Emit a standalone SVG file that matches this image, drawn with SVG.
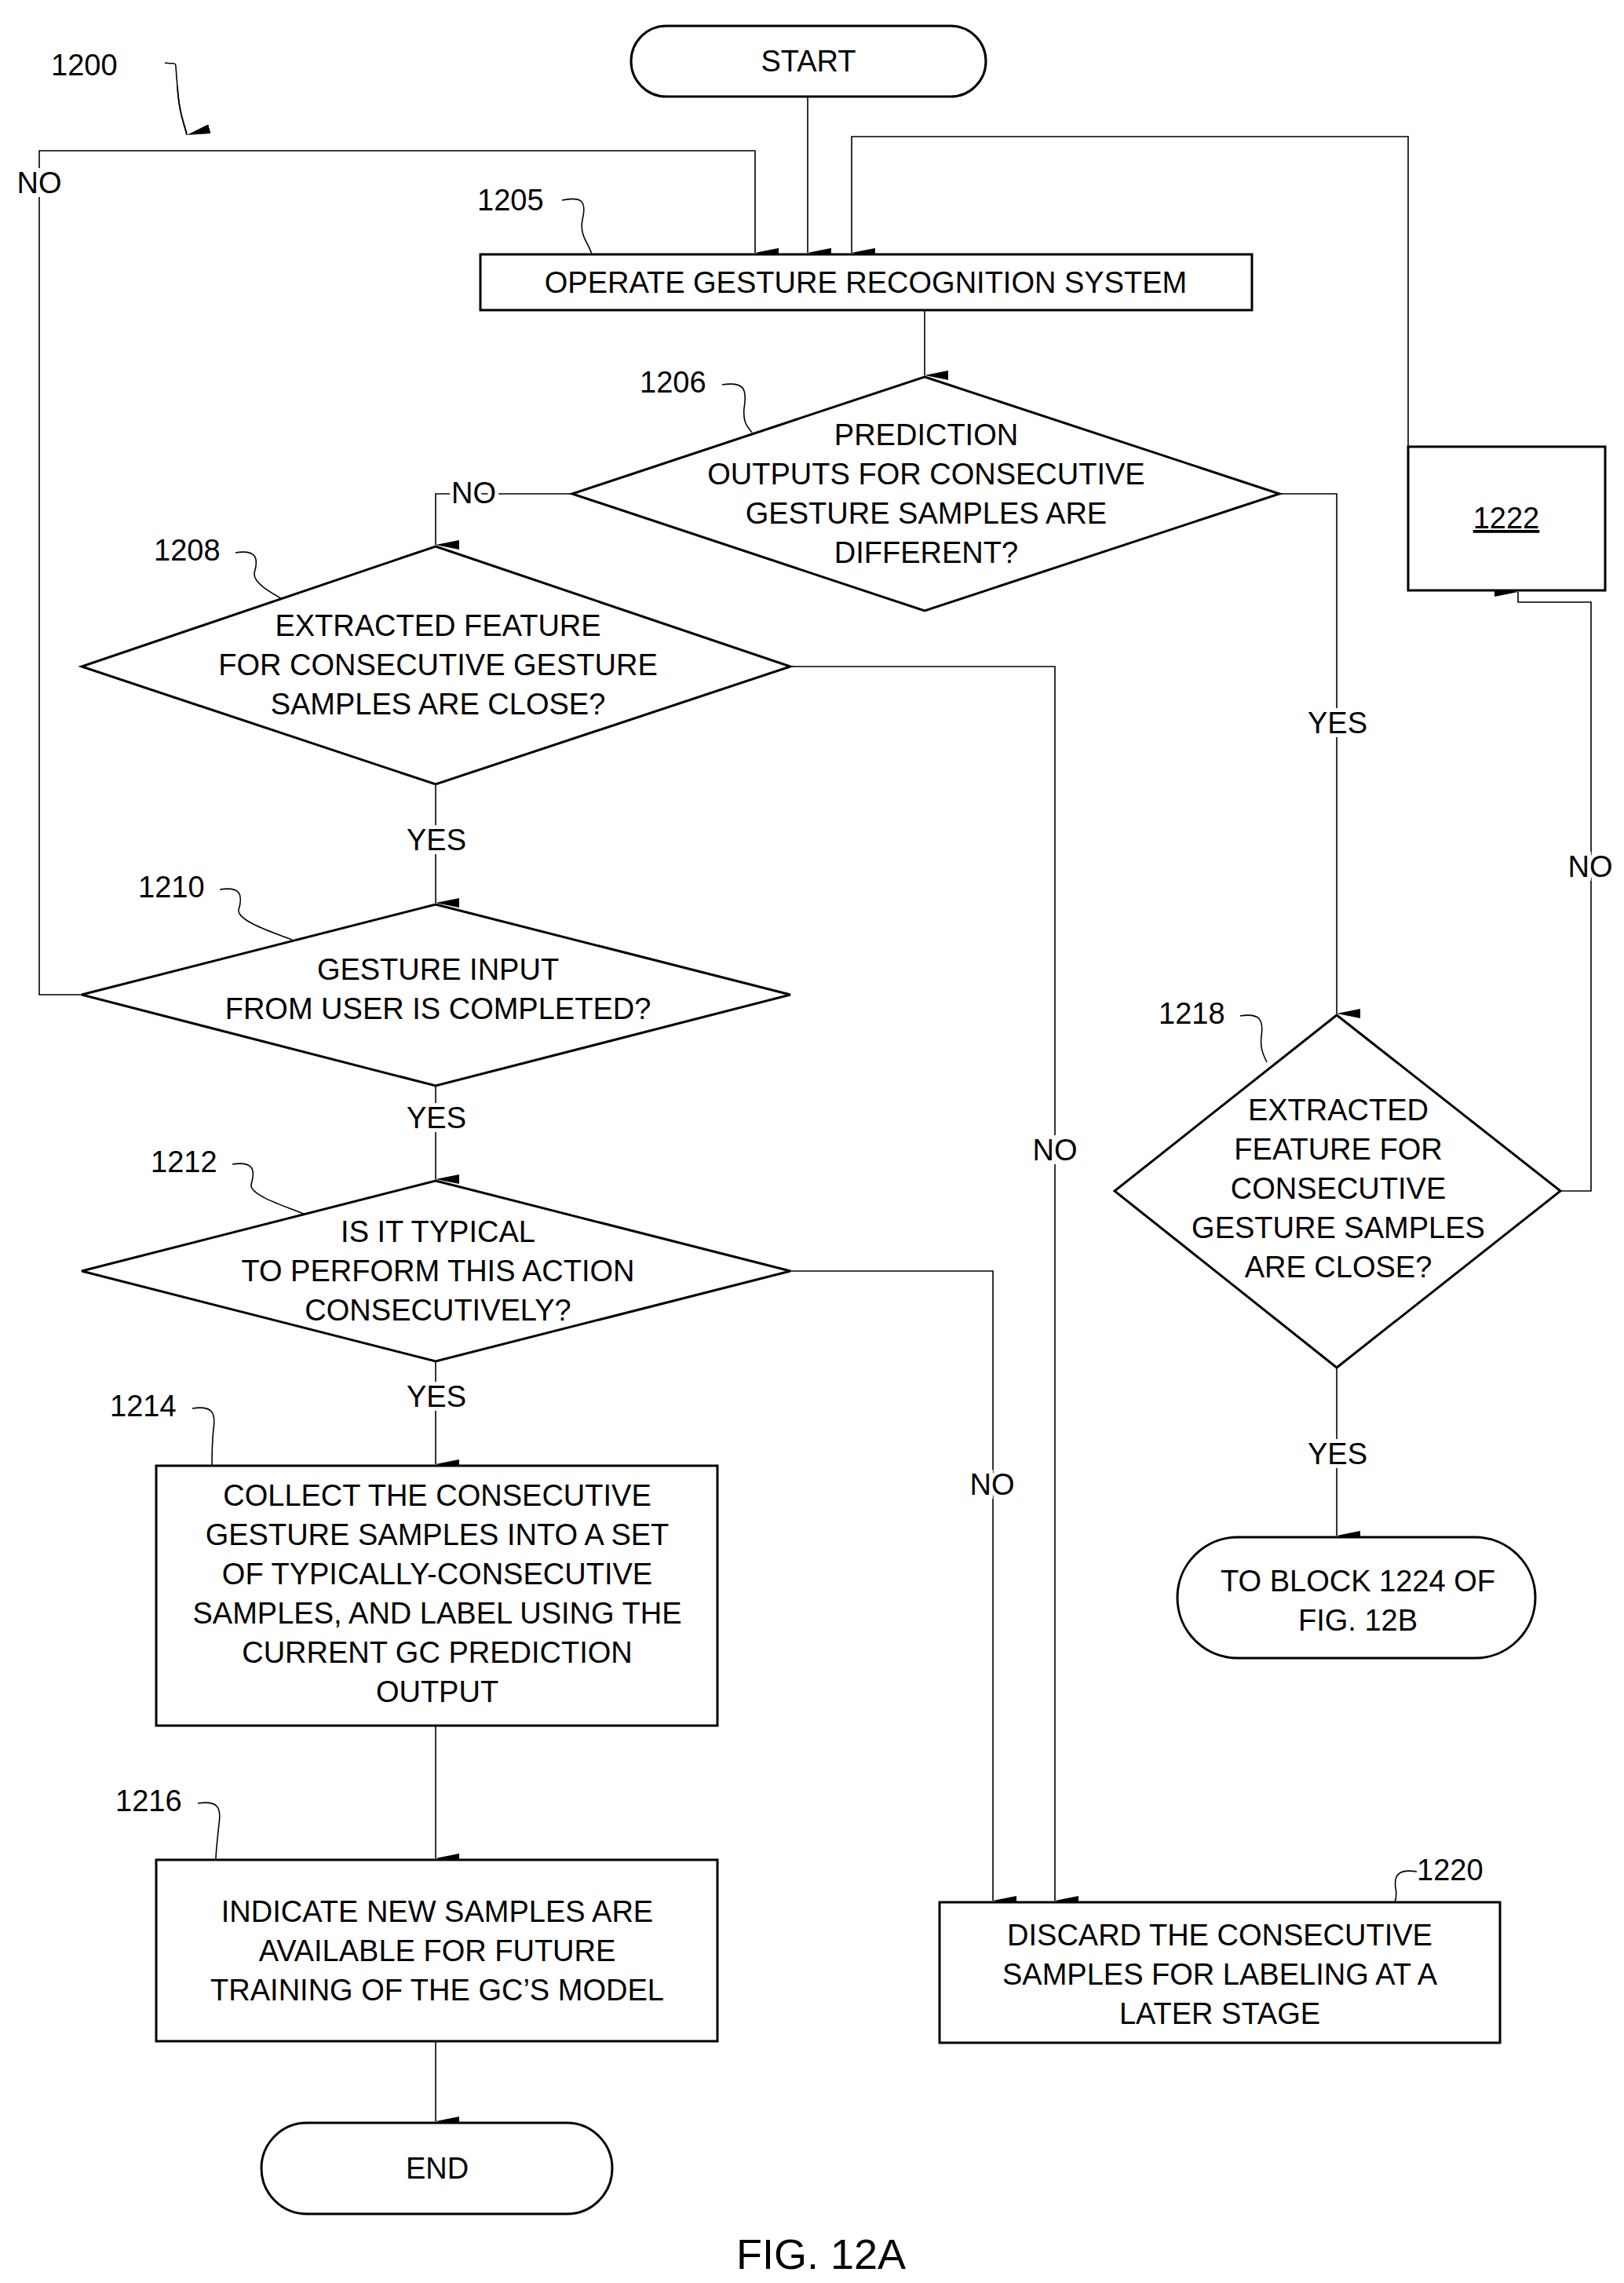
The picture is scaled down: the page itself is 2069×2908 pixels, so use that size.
<svg xmlns="http://www.w3.org/2000/svg" width="2069" height="2908" viewBox="0 0 2069 2908">
<defs>
<marker id="ah" markerWidth="12" markerHeight="30" refX="6" refY="30" orient="auto-start-reverse" markerUnits="userSpaceOnUse" viewBox="0 0 12 30"><path d="M0,0 L12,0 L6,30 Z" fill="#000"/></marker>
<style>
.s{fill:#fff;stroke:#000;stroke-width:3}
.l{fill:none;stroke:#000;stroke-width:1.6}
.c{fill:none;stroke:#000;stroke-width:1.6;marker-end:url(#ah)}
text{font-family:"Liberation Sans",Arial,sans-serif;font-size:38px;fill:#000}
.m{text-anchor:middle}
</style>
</defs>
<rect width="2069" height="2908" fill="#fff"/>
<g id="connectors">
<path class="c" d="M1029,123 V322"/>
<path class="c" d="M104,1267 H50 V192 H962 V322"/>
<path class="c" d="M1794,569 V174 H1085 V322"/>
<path class="c" d="M1178,395 V478"/>
<path class="c" d="M729,629 H555 V694"/>
<path class="c" d="M1630,629 H1703 V1291"/>
<path class="c" d="M1007,849 H1344 V2421"/>
<path class="c" d="M555,999 V1150"/>
<path class="c" d="M555,1383 V1502"/>
<path class="c" d="M1007,1619 H1265 V2421"/>
<path class="c" d="M555,1734 V1865"/>
<path class="c" d="M555,2198 V2367"/>
<path class="c" d="M555,2600 V2702"/>
<path class="c" d="M1703,1742 V1956"/>
<path class="c" d="M1988,1517 H2027 V767 H1934 V754"/>
<path class="l" d="M210,80 C228,84 222,70 226,110 C228,140 232,150 238,170"/>
<path class="c" d="M226,110 C228,140 232,150 238,172"/>
<path class="l" d="M716,255 C740,250 748,255 742,280 C738,300 750,310 754,324"/>
<path class="l" d="M920,490 C948,486 952,495 948,520 C946,540 954,545 958,551"/>
<path class="l" d="M300,704 C326,700 330,710 324,730 C322,745 355,760 372,770"/>
<path class="l" d="M280,1133 C306,1129 310,1139 304,1159 C302,1174 355,1190 372,1197"/>
<path class="l" d="M296,1483 C322,1479 326,1489 320,1509 C318,1524 375,1540 391,1548"/>
<path class="l" d="M245,1794 C271,1790 275,1800 272,1820 C270,1840 270,1855 270,1867"/>
<path class="l" d="M252,2297 C278,2293 282,2303 279,2323 C277,2343 275,2358 275,2369"/>
<path class="l" d="M1580,1294 C1606,1290 1610,1300 1607,1320 C1605,1335 1610,1345 1614,1353"/>
<path class="l" d="M1805,2384 C1780,2380 1776,2390 1778,2405 C1780,2415 1778,2420 1777,2423"/>
</g>
<g id="n1200"><text x="65" y="96">1200</text></g>
<g id="start"><rect class="s" x="804" y="33" width="452" height="90" rx="45"/><text class="m" x="1030" y="91">START</text></g>
<g id="n1205"><text x="608" y="268">1205</text><rect class="s" x="612" y="324" width="983" height="71"/><text class="m" x="1103" y="373">OPERATE GESTURE RECOGNITION SYSTEM</text></g>
<g id="n1206"><text x="815" y="500">1206</text><polygon class="s" points="1178,480 1630,629 1178,778 729,629"/>
<text class="m" x="1180" y="567">PREDICTION</text><text class="m" x="1180" y="617">OUTPUTS FOR CONSECUTIVE</text><text class="m" x="1180" y="667">GESTURE SAMPLES ARE</text><text class="m" x="1180" y="717">DIFFERENT?</text></g>
<g id="n1208"><text x="196" y="714">1208</text><polygon class="s" points="555,696 1007,849 555,999 104,849"/>
<text class="m" x="558" y="810">EXTRACTED FEATURE</text><text class="m" x="558" y="860">FOR CONSECUTIVE GESTURE</text><text class="m" x="558" y="910">SAMPLES ARE CLOSE?</text></g>
<g id="n1210"><text x="176" y="1143">1210</text><polygon class="s" points="555,1152 1007,1267 555,1383 104,1267"/>
<text class="m" x="558" y="1248">GESTURE INPUT</text><text class="m" x="558" y="1298">FROM USER IS COMPLETED?</text></g>
<g id="n1212"><text x="192" y="1493">1212</text><polygon class="s" points="555,1504 1007,1619 555,1734 104,1619"/>
<text class="m" x="558" y="1582">IS IT TYPICAL</text><text class="m" x="558" y="1632">TO PERFORM THIS ACTION</text><text class="m" x="558" y="1682">CONSECUTIVELY?</text></g>
<g id="n1214"><text x="140" y="1804">1214</text><rect class="s" x="199" y="1867" width="715" height="331"/>
<text class="m" x="557" y="1918">COLLECT THE CONSECUTIVE</text><text class="m" x="557" y="1968">GESTURE SAMPLES INTO A SET</text><text class="m" x="557" y="2018">OF TYPICALLY-CONSECUTIVE</text><text class="m" x="557" y="2068">SAMPLES, AND LABEL USING THE</text><text class="m" x="557" y="2118">CURRENT GC PREDICTION</text><text class="m" x="557" y="2168">OUTPUT</text></g>
<g id="n1216"><text x="147" y="2307">1216</text><rect class="s" x="199" y="2369" width="715" height="231"/>
<text class="m" x="557" y="2448">INDICATE NEW SAMPLES ARE</text><text class="m" x="557" y="2498">AVAILABLE FOR FUTURE</text><text class="m" x="557" y="2548">TRAINING OF THE GC’S MODEL</text></g>
<g id="end"><rect class="s" x="333" y="2704" width="447" height="116" rx="58"/><text class="m" x="557" y="2775">END</text></g>
<g id="n1218"><text x="1476" y="1304">1218</text><polygon class="s" points="1703,1293 1988,1517 1703,1742 1420,1517"/>
<text class="m" x="1705" y="1427">EXTRACTED</text><text class="m" x="1705" y="1477">FEATURE FOR</text><text class="m" x="1705" y="1527">CONSECUTIVE</text><text class="m" x="1705" y="1577">GESTURE SAMPLES</text><text class="m" x="1705" y="1627">ARE CLOSE?</text></g>
<g id="n1222"><rect class="s" x="1794" y="569" width="251" height="183"/><text class="m" x="1919" y="673" text-decoration="underline">1222</text></g>
<g id="n1224"><rect class="s" x="1500" y="1958" width="456" height="154" rx="77"/><text class="m" x="1730" y="2027">TO BLOCK 1224 OF</text><text class="m" x="1730" y="2077">FIG. 12B</text></g>
<g id="n1220"><text x="1805" y="2395">1220</text><rect class="s" x="1197" y="2423" width="714" height="179"/>
<text class="m" x="1554" y="2478">DISCARD THE CONSECUTIVE</text><text class="m" x="1554" y="2528">SAMPLES FOR LABELING AT A</text><text class="m" x="1554" y="2578">LATER STAGE</text></g>
<g id="labels">
<text class="m" x="50" y="246" style="paint-order:stroke;stroke:#fff;stroke-width:10">NO</text>
<text x="575" y="641" style="paint-order:stroke;stroke:#fff;stroke-width:10">NO</text>
<text class="m" x="1704" y="934" style="paint-order:stroke;stroke:#fff;stroke-width:10">YES</text>
<text class="m" x="1344" y="1478" style="paint-order:stroke;stroke:#fff;stroke-width:10">NO</text>
<text class="m" x="556" y="1083" style="paint-order:stroke;stroke:#fff;stroke-width:10">YES</text>
<text class="m" x="556" y="1437" style="paint-order:stroke;stroke:#fff;stroke-width:10">YES</text>
<text class="m" x="1264" y="1904" style="paint-order:stroke;stroke:#fff;stroke-width:10">NO</text>
<text class="m" x="556" y="1792" style="paint-order:stroke;stroke:#fff;stroke-width:10">YES</text>
<text class="m" x="2026" y="1117" style="paint-order:stroke;stroke:#fff;stroke-width:10">NO</text>
<text class="m" x="1704" y="1865" style="paint-order:stroke;stroke:#fff;stroke-width:10">YES</text>
<text class="m" x="1046" y="2890" style="font-size:54px">FIG. 12A</text>
</g>
</svg>
